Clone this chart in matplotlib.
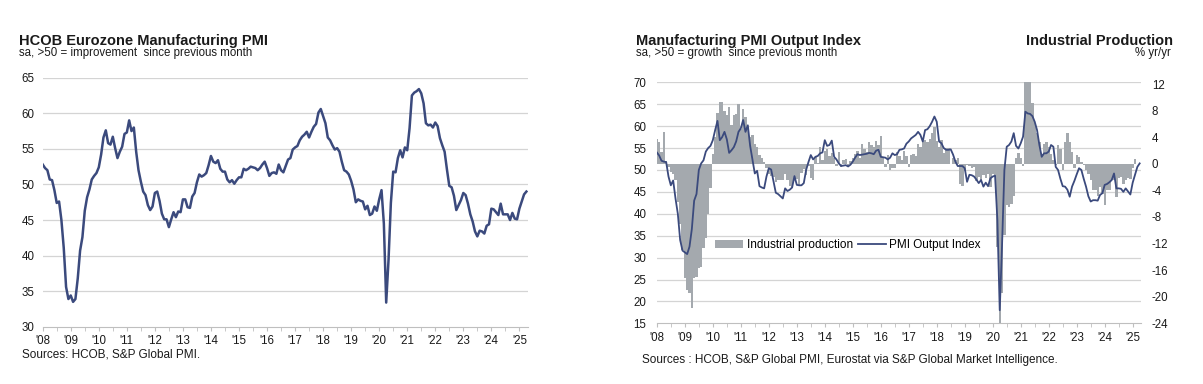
import numpy as np
import matplotlib.pyplot as plt

plt.rcParams['font.family'] = ['Liberation Sans', 'DejaVu Sans']
plt.rcParams['axes.unicode_minus'] = False

# HCOB Eurozone Manufacturing PMI, monthly Jan 2008 - Apr 2025
pmi = [
    52.8, 52.3, 52.0, 50.7, 50.6, 49.2, 47.4, 47.6, 45.0, 41.1, 35.6, 33.9,  # 2008
    34.4, 33.5, 33.9, 36.8, 40.7, 42.6, 46.3, 48.2, 49.3, 50.7, 51.2, 51.6,  # 2009
    52.4, 54.2, 56.6, 57.6, 55.8, 55.6, 56.7, 55.1, 53.7, 54.6, 55.3, 57.1,  # 2010
    57.3, 59.0, 57.5, 58.0, 54.6, 52.0, 50.4, 49.0, 48.5, 47.1, 46.4, 46.9,  # 2011
    48.8, 49.0, 47.7, 45.9, 45.1, 45.1, 44.0, 45.1, 46.1, 45.4, 46.2, 46.1,  # 2012
    47.9, 47.9, 46.8, 46.7, 48.3, 48.8, 50.3, 51.4, 51.1, 51.3, 51.6, 52.7,  # 2013
    54.0, 53.2, 53.0, 53.4, 52.2, 51.8, 51.8, 50.7, 50.3, 50.6, 50.1, 50.6,  # 2014
    51.0, 51.0, 52.2, 52.0, 52.2, 52.5, 52.4, 52.3, 52.0, 52.3, 52.8, 53.2,  # 2015
    52.3, 51.2, 51.6, 51.7, 51.5, 52.8, 52.0, 51.7, 52.6, 53.5, 53.7, 54.9,  # 2016
    55.2, 55.4, 56.2, 56.7, 57.0, 57.4, 56.6, 57.4, 58.1, 58.5, 60.1, 60.6,  # 2017
    59.6, 58.6, 56.6, 56.2, 55.5, 54.9, 55.1, 54.6, 53.2, 52.0, 51.8, 51.4,  # 2018
    50.5, 49.3, 47.5, 47.9, 47.7, 47.6, 46.5, 47.0, 45.7, 45.9, 46.9, 46.3,  # 2019
    47.9, 49.2, 44.5, 33.4, 39.4, 47.4, 51.8, 51.7, 53.7, 54.8, 53.8, 55.2,  # 2020
    54.8, 57.9, 62.5, 62.9, 63.1, 63.4, 62.8, 61.4, 58.6, 58.3, 58.4, 58.0,  # 2021
    58.7, 58.2, 56.5, 55.5, 54.6, 52.1, 49.8, 49.6, 48.4, 46.4, 47.1, 47.8,  # 2022
    48.8, 48.5, 47.3, 45.8, 44.8, 43.4, 42.7, 43.5, 43.4, 43.1, 44.2, 44.4,  # 2023
    46.6, 46.5, 46.1, 45.7, 47.3, 45.8, 45.8, 45.8, 45.0, 46.0, 45.2, 45.1,  # 2024
    46.6, 47.6, 48.6, 49.0,                                                  # 2025
]

# Manufacturing PMI Output Index, monthly Jan 2008 - Apr 2025
output = [
    54.0, 53.3, 52.1, 51.9, 51.8, 48.5, 46.5, 47.6, 43.5, 40.0, 34.0, 31.6,  # 2008
    31.2, 30.8, 32.5, 36.5, 43.0, 44.5, 50.0, 51.5, 52.2, 54.2, 55.0, 55.5,  # 2009
    56.8, 59.1, 61.2, 56.8, 57.5, 58.7, 57.0, 53.9, 54.5, 55.2, 56.5, 58.7,  # 2010
    59.5, 61.4, 58.7, 60.2, 55.5, 52.3, 49.2, 49.8, 46.3, 46.0, 45.8, 48.5,  # 2011
    50.4, 50.1, 47.5, 44.8, 44.5, 44.0, 43.5, 45.8, 45.2, 45.5, 46.0, 48.6,  # 2012
    46.6, 46.5, 46.5, 47.0, 50.0, 51.8, 53.4, 52.4, 53.0, 53.2, 53.8, 54.0,  # 2013
    56.8, 55.5, 55.7, 56.7, 53.0, 52.4, 51.5, 50.9, 51.0, 51.1, 50.8, 51.2,  # 2014
    51.9, 52.8, 53.6, 53.4, 53.5, 53.6, 53.7, 53.9, 53.8, 53.6, 54.4, 54.6,  # 2015
    53.0, 52.9, 52.8, 52.4, 52.8, 53.8, 53.4, 53.6, 54.6, 54.7, 54.9, 56.0,  # 2016
    56.5, 57.2, 57.6, 58.0, 58.7, 58.0, 56.5, 59.1, 59.3, 60.0, 61.0, 62.2,  # 2017
    61.0, 56.5, 56.1, 55.0, 54.6, 54.6, 54.7, 53.5, 51.9, 50.9, 50.9, 50.9,  # 2018
    50.4, 47.3, 48.9, 48.8, 48.5, 47.8, 47.0, 47.7, 46.2, 47.1, 46.3, 48.1,  # 2019
    48.5, 48.7, 38.5, 18.0, 33.0, 50.0, 55.3, 55.7, 56.5, 58.4, 55.5, 54.9,  # 2020
    56.1, 57.6, 63.3, 62.9, 62.8, 62.3, 61.0, 59.1, 55.7, 53.0, 53.8, 53.8,  # 2021
    54.2, 55.7, 55.3, 50.7, 50.0, 48.0, 46.3, 46.2, 45.5, 43.9, 46.2, 47.5,  # 2022
    49.0, 50.4, 50.0, 48.0, 46.2, 44.0, 42.8, 43.1, 43.1, 43.0, 44.3, 44.7,  # 2023
    46.6, 46.8, 47.2, 47.7, 49.2, 45.8, 45.8, 45.7, 45.0, 45.8, 45.1, 44.4,  # 2024
    47.1, 48.9, 50.7, 51.5,                                                  # 2025
]

# Industrial production, % yr/yr, monthly Jan 2008 - Feb 2025
ind_prod = [
    3.7, 3.3, 1.8, 4.8, 0.4, -0.5, -1.2, -1.5, -2.5, -5.8, -9.0, -13.0,  # 2008
    -17.2, -19.0, -19.5, -21.7, -17.2, -17.0, -15.7, -15.5, -12.7, -11.2, -7.5, -3.7,  # 2009
    1.5, 4.0, 7.6, 9.3, 9.3, 8.0, 7.3, 8.6, 5.8, 7.3, 7.5, 9.0,  # 2010
    5.3, 8.2, 7.0, 5.5, 4.0, 4.3, 3.0, 2.5, 1.3, 0.8, 0.3, -0.6,  # 2011
    -1.5, -1.9, -2.0, -2.7, -2.5, -2.4, -2.4, -1.5, -2.4, -3.4, -3.6, -2.5,  # 2012
    -2.3, -3.2, -1.4, -0.8, -1.7, -0.4, -2.2, -2.5, 1.0, 0.1, 2.5, 0.5,  # 2013
    2.0, 2.3, 1.2, 1.6, 0.8, -0.3, 1.8, -0.5, 0.6, 0.7, -0.3, 0.4,  # 2014
    0.8, 1.5, 2.0, 0.8, 3.0, 2.3, 1.8, 3.3, 2.8, 2.6, 3.4, 2.8,  # 2015
    4.2, 0.8, -0.5, 1.3, -0.9, -0.6, -0.6, 1.8, 1.2, 0.6, 1.9, 1.2,  # 2016
    -0.5, 1.3, 1.5, 1.2, 3.0, 2.6, 3.5, 3.6, 3.3, 3.7, 4.7, 5.6,  # 2017
    3.4, 2.5, 3.6, 1.7, 2.4, 2.4, -0.1, 0.9, 0.5, 0.9, -3.0, -3.4,  # 2018
    -1.1, -0.2, -0.3, -0.6, -0.5, -2.6, -2.0, -2.8, -1.7, -2.2, -1.5, -3.5,  # 2019
    -1.5, -1.8, -12.5, -24.5, -19.5, -10.7, -6.2, -6.5, -6.0, -4.8, 0.8, 1.6,  # 2020
    0.8, -0.3, 14.0, 39.0, 21.0, 9.1, 6.1, 4.6, 3.3, 1.5, 3.0, 3.3,  # 2021
    2.6, 1.5, 0.6, -0.2, 2.8, 2.3, -1.0, 3.3, 4.6, 3.3, 1.8, -0.7,  # 2022
    1.3, 1.0, 0.3, -0.2, -1.0, -1.5, -2.5, -4.0, -4.0, -4.8, -3.5, -4.5,  # 2023
    -6.2, -4.0, -4.0, -2.5, -2.5, -5.0, -2.2, -2.0, -3.0, -2.5, -2.2, -2.3,  # 2024
    -0.7, 0.7,  # 2025
]

years = list(range(2008, 2026))
year_labels = ["'%02d" % (y % 100) for y in years]

NAVY = '#3b4a7d'
BAR = '#a4a9ae'
GRID = '#d4d4d4'
TXT = '#1a1a1a'


def month_x(n):
    return 2008 + np.arange(n) / 12


def style_xaxis(ax):
    ax.set_xlim(2008, 2025.29)
    ax.set_xticks(years)
    ax.set_xticklabels(year_labels)
    ax.set_xticks(np.arange(2008.5, 2025.3, 1), minor=True)
    ax.tick_params(axis='x', which='both', length=3, color='#bfbfbf',
                   labelsize=8.3, labelcolor=TXT, pad=3)
    for s in ['top', 'left', 'right']:
        ax.spines[s].set_visible(False)
    ax.spines['bottom'].set_color('#bfbfbf')


fig = plt.figure(figsize=(12.03, 3.84), dpi=100)

# ---- left panel ----
ax = fig.add_axes([0.0355, 0.149, 0.403, 0.6487])
ax.plot(month_x(len(pmi)), pmi, color=NAVY, lw=1.8, solid_joinstyle='round')
ax.set_ylim(30, 65)
ax.set_yticks(range(30, 66, 5))
ax.tick_params(axis='y', length=0, labelsize=8.3, labelcolor=TXT, pad=6)
for v in range(35, 66, 5):
    ax.axhline(v, color=GRID, lw=0.9, zorder=0)
style_xaxis(ax)

fig.text(0.0158, 0.883, 'HCOB Eurozone Manufacturing PMI', fontsize=10.5,
         fontweight='bold', color=TXT)
fig.text(0.0158, 0.853, 'sa, >50 = improvement  since previous month',
         fontsize=8.3, color=TXT)
fig.text(0.018, 0.078, 'Sources: HCOB, S&P Global PMI.', fontsize=8.5,
         color=TXT, va='center')

# ---- right panel ----
axl = fig.add_axes([0.546, 0.158, 0.4023, 0.6276])
axl.set_ylim(15, 70)
axl.set_yticks(range(15, 71, 5))
axl.tick_params(axis='y', length=0, labelsize=8.3, labelcolor=TXT, pad=7.5)
for v in range(20, 71, 5):
    axl.axhline(v, color=GRID, lw=0.9, zorder=0)
style_xaxis(axl)

axr = axl.twinx()
axr.bar(month_x(len(ind_prod)), ind_prod, width=1 / 12, color=BAR,
        linewidth=0, label='Industrial production')
axr.set_ylim(-24, 12.26)
axr.set_yticks(range(-24, 13, 4))
axr.tick_params(axis='y', length=0, labelsize=8.3, labelcolor=TXT, pad=8)
for s in axr.spines.values():
    s.set_visible(False)

axt = axl.twinx()
axt.plot(month_x(len(output)), output, color=NAVY, lw=1.3,
         label='PMI Output Index')
axt.set_ylim(15, 70)
axt.set_yticks([])
for s in axt.spines.values():
    s.set_visible(False)

h1, l1 = axr.get_legend_handles_labels()
h2, l2 = axt.get_legend_handles_labels()
axt.legend(h1 + h2, l1 + l2, loc='center left', bbox_to_anchor=(0.11, 0.325),
           ncol=2, frameon=False, fontsize=8.5, handlelength=2.4,
           handleheight=0.6, handletextpad=0.3, columnspacing=0.4,
           borderaxespad=0)

fig.text(0.5285, 0.883, 'Manufacturing PMI Output Index', fontsize=10.5,
         fontweight='bold', color=TXT)
fig.text(0.5285, 0.853, 'sa, >50 = growth  since previous month',
         fontsize=8.3, color=TXT)
fig.text(0.975, 0.883, 'Industrial Production', fontsize=10.5,
         fontweight='bold', color=TXT, ha='right')
fig.text(0.9735, 0.853, '% yr/yr', fontsize=8.3, color=TXT, ha='right')
fig.text(0.534, 0.0625,
         'Sources : HCOB, S&P Global PMI, Eurostat via S&P Global Market Intelligence.',
         fontsize=8.5, color=TXT, va='center')

fig.savefig('out.png', dpi=100)
